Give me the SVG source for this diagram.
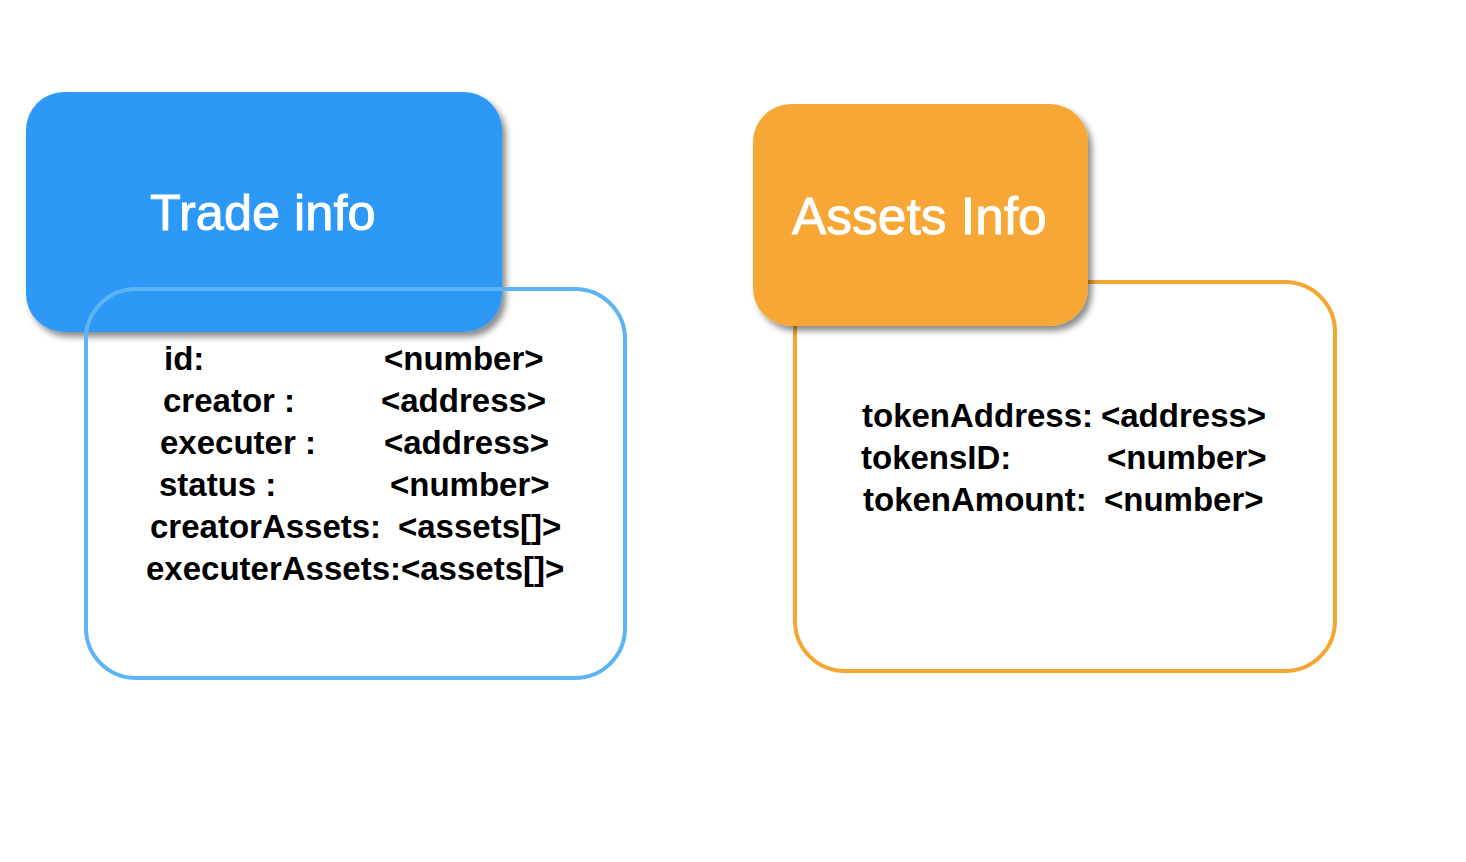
<svg xmlns="http://www.w3.org/2000/svg" width="1466" height="862" viewBox="0 0 1466 862">
<defs>
<filter id="sh" x="-10%" y="-10%" width="130%" height="130%">
<feDropShadow dx="4" dy="5" stdDeviation="3" flood-color="#000" flood-opacity="0.45"/>
</filter>
</defs>
<style>
.title{font-family:"Liberation Sans",Arial,sans-serif;font-size:50.5px;fill:#fff;stroke:#fff;stroke-width:0.9px}
.body{font-family:"Liberation Sans",Arial,sans-serif;font-size:33px;font-weight:bold;fill:#000}
</style>
<rect width="1466" height="862" fill="#fff"/>
<g id="trade-info">
<rect x="26" y="92" width="476" height="240" rx="38" fill="#2D98F7" filter="url(#sh)"/>
<text class="title" x="150" y="230">Trade info</text>
</g>
<g id="trade-fields">
<rect x="86" y="289" width="539" height="389" rx="50" fill="none" stroke="#5CB4F5" stroke-width="4"/>
<text class="body" x="164" y="370">id:</text>
<text class="body" x="384" y="370">&lt;number&gt;</text>
<text class="body" x="163" y="412">creator :</text>
<text class="body" x="381" y="412">&lt;address&gt;</text>
<text class="body" x="160" y="454">executer :</text>
<text class="body" x="384" y="454">&lt;address&gt;</text>
<text class="body" x="159" y="496">status :</text>
<text class="body" x="390" y="496">&lt;number&gt;</text>
<text class="body" x="150" y="538">creatorAssets:</text>
<text class="body" x="398" y="538">&lt;assets[]&gt;</text>
<text class="body" x="146" y="580">executerAssets:&lt;assets[]&gt;</text>
</g>
<g id="assets-fields">
<rect x="795" y="282" width="540" height="389" rx="50" fill="none" stroke="#F5A631" stroke-width="4"/>
<text class="body" x="862" y="427">tokenAddress:</text>
<text class="body" x="1101" y="427">&lt;address&gt;</text>
<text class="body" x="861" y="469">tokensID:</text>
<text class="body" x="1107" y="469">&lt;number&gt;</text>
<text class="body" x="863" y="511">tokenAmount:</text>
<text class="body" x="1104" y="511">&lt;number&gt;</text>
</g>
<g id="assets-info">
<rect x="753" y="104" width="335" height="222" rx="38" fill="#F6A734" filter="url(#sh)"/>
<text class="title" x="792" y="234" style="font-size:51.5px">Assets Info</text>
</g>
<g id="connectors"></g>
</svg>
